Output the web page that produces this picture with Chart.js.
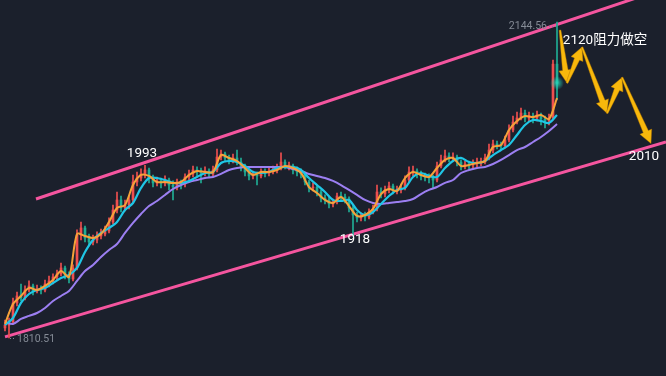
<!DOCTYPE html>
<html><head><meta charset="utf-8">
<script src="https://cdn.jsdelivr.net/npm/chart.js@4.4.1/dist/chart.umd.min.js"></script>
<style>
html,body{margin:0;padding:0;background:#1b202c;}
#wrap{position:relative;width:666px;height:376px;background:#1b202c;overflow:hidden;}
canvas{display:block;}
</style></head><body>
<div id="wrap"><canvas id="c" width="666" height="376"></canvas></div>
<script>
// ---- candle data (price) ----
const openP = [
1821.1,1824.2,1827.4,1847.5,1856.0,1852.8,1861.2,1865.5,1860.2,1862.3,
1861.2,1867.6,1870.8,1875.0,1878.2,1884.5,1876.0,1872.9,1884.5,1919.4,
1926.8,1916.2,1912.0,1914.1,1918.3,1920.4,1923.6,1933.1,1945.8,1956.4,
1947.9,1951.1,1956.4,1975.4,1979.6,1983.9,1988.1,1979.6,1974.4,1976.5,
1974.4,1977.5,1972.2,1970.1,1974.4,1973.3,1980.7,1983.9,1988.1,1987.0,
1984.9,1987.0,1983.9,1988.1,2001.8,2005.0,2000.8,1998.7,2000.8,1996.5,
1991.3,1986.0,1981.8,1983.9,1981.8,1986.0,1984.9,1987.0,1988.1,1990.2,
1996.5,1992.3,1992.3,1988.1,1986.0,1983.9,1975.4,1969.1,1970.1,1964.8,
1958.5,1956.4,1952.2,1954.3,1960.6,1959.6,1957.4,1947.9,1940.5,1937.4,
1939.5,1938.4,1943.7,1946.9,1964.8,1962.7,1967.0,1971.2,1965.9,1967.0,
1969.1,1977.5,1986.0,1987.0,1983.9,1981.8,1980.7,1979.6,1977.5,1992.3,
1998.7,2002.9,2000.8,2001.8,1996.5,1992.3,1994.4,1993.4,1995.5,1995.5,
1996.5,2000.8,2009.2,2015.6,2014.5,2013.5,2019.8,2030.4,2038.8,2043.1,
2048.3,2043.1,2045.2,2043.1,2046.2,2042.0,2039.9,2043.1,2100.0];
const highP = [
1829.5,1831.6,1852.8,1859.1,1867.6,1865.5,1870.8,1867.6,1866.5,1865.5,
1871.8,1876.0,1878.2,1882.4,1889.8,1886.6,1880.3,1887.7,1924.7,1933.1,
1928.9,1920.4,1919.4,1922.6,1925.7,1928.9,1937.4,1951.1,1964.8,1960.6,
1956.4,1960.6,1982.8,1986.0,1989.2,1993.0,1990.2,1982.8,1980.7,1979.6,
1981.8,1979.6,1976.5,1978.6,1977.5,1983.9,1988.1,1992.3,1991.3,1990.2,
1991.3,1989.2,1992.3,2010.3,2009.2,2007.1,2003.9,2005.0,2009.2,2000.8,
1994.4,1988.1,1987.0,1986.0,1989.2,1989.2,1990.2,1992.3,1994.4,2006.1,
1998.7,1996.5,1994.4,1991.3,1989.2,1986.0,1977.5,1974.4,1972.2,1967.0,
1961.7,1959.6,1957.4,1963.8,1964.8,1962.7,1959.6,1951.1,1943.7,1942.6,
1943.7,1946.9,1951.1,1972.2,1969.1,1971.2,1975.4,1973.3,1971.2,1973.3,
1981.8,1991.3,1992.3,1989.2,1987.0,1984.9,1983.9,1982.8,1996.5,2003.9,
2009.2,2006.1,2006.1,2003.9,1998.7,1997.6,1997.6,1998.7,2000.8,2000.8,
2005.0,2015.6,2019.8,2018.7,2017.7,2024.0,2035.7,2045.2,2049.4,2053.6,
2051.5,2049.4,2048.3,2050.5,2048.3,2045.2,2047.3,2104.4,2144.56];
const lowP = [
1817.9,1810.51,1825.3,1844.3,1849.6,1850.7,1859.1,1856.0,1858.1,1857.0,
1859.1,1864.4,1867.6,1871.8,1876.0,1872.9,1868.6,1870.8,1882.4,1914.1,
1912.0,1907.8,1908.8,1910.9,1915.2,1918.3,1921.5,1931.0,1942.6,1943.7,
1944.8,1946.9,1954.3,1971.2,1976.5,1979.6,1974.4,1970.1,1971.2,1969.1,
1971.2,1967.0,1956.4,1967.0,1968.0,1970.1,1977.5,1980.7,1981.8,1974.4,
1981.8,1979.6,1981.8,1986.0,1998.7,1996.5,1994.4,1995.5,1993.4,1987.0,
1981.8,1977.5,1978.6,1972.2,1979.6,1980.7,1981.8,1983.9,1984.9,1988.1,
1989.2,1988.1,1983.9,1981.8,1979.6,1972.2,1964.8,1965.9,1960.6,1954.3,
1952.2,1947.9,1949.0,1952.2,1956.4,1953.2,1943.7,1918.0,1933.1,1934.2,
1934.2,1936.3,1941.6,1944.8,1958.5,1959.6,1963.8,1962.7,1962.7,1963.8,
1967.0,1975.4,1981.8,1979.6,1977.5,1976.5,1974.4,1969.1,1975.4,1990.2,
1996.5,1996.5,1997.6,1992.3,1988.1,1989.2,1989.2,1990.2,1991.3,1992.3,
1994.4,1998.7,2006.1,2010.3,2009.2,2011.3,2017.7,2028.3,2036.7,2040.9,
2038.8,2039.9,2037.8,2039.9,2035.7,2032.5,2035.7,2040.9,2062.1];
const closeP = [
1824.2,1827.4,1847.5,1854.9,1852.8,1861.2,1865.5,1860.2,1862.3,1861.2,
1867.6,1870.8,1875.0,1878.2,1884.5,1876.0,1872.9,1884.5,1919.4,1926.8,
1916.2,1912.0,1914.1,1918.3,1920.4,1923.6,1933.1,1945.8,1956.4,1947.9,
1951.1,1956.4,1975.4,1979.6,1983.9,1988.1,1979.6,1974.4,1976.5,1974.4,
1977.5,1972.2,1970.1,1974.4,1973.3,1980.7,1983.9,1988.1,1987.0,1984.9,
1987.0,1983.9,1988.1,2001.8,2005.0,2000.8,1998.7,2000.8,1996.5,1991.3,
1986.0,1981.8,1983.9,1981.8,1986.0,1984.9,1987.0,1988.1,1990.2,1996.5,
1992.3,1992.3,1988.1,1986.0,1983.9,1975.4,1969.1,1970.1,1964.8,1958.5,
1956.4,1952.2,1954.3,1960.6,1959.6,1957.4,1947.9,1940.5,1937.4,1939.5,
1938.4,1943.7,1946.9,1964.8,1962.7,1967.0,1971.2,1967.0,1967.0,1969.1,
1977.5,1986.0,1987.0,1983.9,1981.8,1980.7,1979.6,1977.5,1992.3,1998.7,
2002.9,2000.8,2001.8,1996.5,1992.3,1994.4,1993.4,1995.5,1996.5,1996.5,
2000.8,2009.2,2015.6,2014.5,2013.5,2019.8,2030.4,2038.8,2043.1,2048.3,
2043.1,2045.2,2043.1,2046.2,2042.0,2039.9,2043.1,2100.0,2080.0];

// ---- moving averages, sampled every 2nd candle ----
const maFast = [
1825.3,1846.4,1854.9,1863.4,1861.2,1865.5,1871.8,1881.3,1875.0,1920.4,
1918.3,1916.2,1920.4,1933.1,1947.9,1951.1,1972.2,1982.8,1981.8,1975.4,
1975.4,1974.4,1975.4,1982.8,1987.0,1986.0,1986.0,2003.9,2000.8,1997.6,
1990.2,1982.8,1986.0,1986.0,1988.1,1992.3,1990.2,1984.9,1970.1,1963.8,
1956.4,1953.2,1959.6,1950.0,1939.5,1940.5,1946.9,1962.7,1968.0,1965.9,
1979.6,1986.0,1982.8,1980.7,1990.2,1998.7,2000.8,1992.3,1993.4,1995.5,
1997.6,2012.4,2014.5,2030.4,2039.9,2045.2,2044.1,2046.2,2042.0,2064.2];
const maMid = [
1824.2,1831.6,1847.5,1857.0,1861.2,1863.4,1868.6,1873.9,1877.1,1884.5,
1901.4,1914.1,1921.5,1926.8,1933.1,1945.8,1953.2,1969.1,1979.6,1979.6,
1977.5,1974.4,1974.4,1976.5,1980.7,1984.9,1986.0,1995.5,1997.6,1996.5,
1992.3,1986.0,1984.9,1986.0,1990.2,1991.3,1991.3,1988.1,1979.6,1972.2,
1964.8,1956.4,1955.3,1956.4,1945.8,1940.5,1943.7,1952.2,1960.6,1967.0,
1969.1,1980.7,1984.9,1981.8,1980.7,1990.2,1997.6,2000.8,1996.5,1995.5,
1997.6,2003.9,2009.2,2014.5,2025.1,2035.7,2040.9,2039.9,2037.8,2046.2];
const maSlow = [
1827.4,1825.3,1830.6,1833.8,1836.9,1842.2,1849.6,1854.9,1860.2,1870.8,
1881.3,1887.7,1896.1,1903.5,1909.9,1921.5,1932.1,1941.6,1950.0,1955.3,
1961.7,1968.0,1972.2,1975.4,1977.5,1979.6,1980.7,1983.9,1988.1,1990.2,
1991.3,1991.3,1991.3,1991.3,1991.3,1991.3,1989.1,1987.0,1983.9,1981.8,
1979.6,1976.5,1972.2,1967.0,1961.7,1956.4,1953.2,1952.2,1953.2,1954.3,
1955.3,1957.4,1962.7,1967.0,1970.1,1974.4,1977.5,1984.9,1988.1,1990.2,
1991.3,1994.4,1998.7,2003.9,2009.2,2012.4,2017.7,2023.0,2029.3,2036.7];

// ---- channel lines, projected path, notes ----
const upperChanX = [7.75, 165.25], upperChanY = [1957.4, 2180.5];
const lowerChanX = [0, 165.25],    lowerChanY = [1811.6, 2017.7];
const arrowX = [138.75, 140.5, 144.25, 150.5, 154.25, 161.5];
const arrowY = [2136, 2080, 2118, 2048, 2086, 2016];
const noteText = ['1993', '1918', '2010', '2120阻力做空'];
const noteX = [34.25, 87.5, 159.75, 150.0];
const noteY = [2005.0, 1914.1, 2001.8, 2124.5];

const UP = '#ef4f4f', DOWN = '#20ad95';
const candleIdx = openP.map((_, i) => i);
const maIdx = maFast.map((_, k) => k * 2);
const candleCol = candleIdx.map(i => closeP[i] >= openP[i] ? UP : DOWN);
const pts = (xs, ys) => xs.map((x, k) => ({x, y: ys[k]}));

function drawArrow(ctx, x0, y0, x1, y1) {
  const dx = x1 - x0, dy = y1 - y0, L = Math.hypot(dx, dy);
  const ux = dx / L, uy = dy / L, nx = -uy, ny = ux;
  const headL = 13, headW = 6.5, w0 = 0.9, w1 = 2.8;
  const bx = x1 - ux * headL, by = y1 - uy * headL;
  ctx.beginPath();
  ctx.moveTo(x0 + nx * w0, y0 + ny * w0);
  ctx.lineTo(bx + nx * w1, by + ny * w1);
  ctx.lineTo(bx + nx * headW, by + ny * headW);
  ctx.lineTo(x1, y1);
  ctx.lineTo(bx - nx * headW, by - ny * headW);
  ctx.lineTo(bx - nx * w1, by - ny * w1);
  ctx.lineTo(x0 - nx * w0, y0 - ny * w0);
  ctx.closePath();
  ctx.fillStyle = '#f8b80c';
  ctx.fill();
  ctx.strokeStyle = 'rgba(170,110,0,0.7)';
  ctx.lineWidth = 0.6;
  ctx.stroke();
}

const overlay = {
  id: 'overlay',
  afterDatasetsDraw(chart) {
    const ctx = chart.ctx, xs = chart.scales.x, ys = chart.scales.y;
    ctx.save();
    // glow on latest price
    const li = closeP.length - 1;
    const gx = xs.getPixelForValue(li), gy = ys.getPixelForValue(closeP[li]);
    const g = ctx.createRadialGradient(gx, gy, 0, gx, gy, 7);
    g.addColorStop(0, 'rgba(40,215,185,0.9)');
    g.addColorStop(1, 'rgba(40,215,185,0)');
    ctx.fillStyle = g;
    ctx.beginPath(); ctx.arc(gx, gy, 7, 0, Math.PI * 2); ctx.fill();
    // projected path arrows
    for (let k = 0; k < arrowX.length - 1; k++) {
      drawArrow(ctx, xs.getPixelForValue(arrowX[k]), ys.getPixelForValue(arrowY[k]),
                     xs.getPixelForValue(arrowX[k + 1]), ys.getPixelForValue(arrowY[k + 1]));
    }
    // notes
    ctx.fillStyle = '#ffffff';
    ctx.font = '13.5px Roboto, "Noto Sans CJK SC", sans-serif';
    ctx.textAlign = 'center';
    ctx.textBaseline = 'middle';
    noteText.forEach((t, k) => ctx.fillText(t, xs.getPixelForValue(noteX[k]), ys.getPixelForValue(noteY[k])));
    // extreme value tags
    const hi = Math.max(...highP), hiI = highP.indexOf(hi);
    const lo = Math.min(...lowP), loI = lowP.indexOf(lo);
    ctx.font = '10.5px Roboto, sans-serif';
    ctx.fillStyle = '#858b96';
    ctx.strokeStyle = '#858b96';
    ctx.lineWidth = 1;
    ctx.setLineDash([1, 2]);
    let px = xs.getPixelForValue(hiI), py = ys.getPixelForValue(hi) + 4;
    ctx.beginPath(); ctx.moveTo(px - 1, py + 0.5); ctx.lineTo(px - 9, py + 0.5); ctx.stroke();
    ctx.textAlign = 'right';
    ctx.fillText(hi.toFixed(2), px - 10, py);
    px = xs.getPixelForValue(loI); py = ys.getPixelForValue(lo);
    ctx.beginPath(); ctx.moveTo(px + 1, py + 0.5); ctx.lineTo(px + 7, py + 0.5); ctx.stroke();
    ctx.textAlign = 'left';
    ctx.fillText(lo.toFixed(2), px + 8, py + 1);
    ctx.restore();
  }
};

new Chart(document.getElementById('c'), {
  type: 'bar',
  data: {
    datasets: [
      {type: 'line', data: pts(upperChanX, upperChanY), borderColor: '#f5559f', borderWidth: 3, pointRadius: 0, order: 6},
      {type: 'line', data: pts(lowerChanX, lowerChanY), borderColor: '#f5559f', borderWidth: 3, pointRadius: 0, order: 6},
      {type: 'bar', data: candleIdx.map(i => ({x: i, y: [lowP[i], highP[i]]})), backgroundColor: candleCol,
       barThickness: 1, grouped: false, order: 5},
      {type: 'bar', data: candleIdx.map(i => ({x: i, y: [openP[i], closeP[i]]})), backgroundColor: candleCol,
       barThickness: 2, minBarLength: 1, grouped: false, order: 4},
      {type: 'line', data: pts(maIdx, maSlow), borderColor: '#9c7ff2', borderWidth: 2, pointRadius: 0, tension: 0.3, order: 3},
      {type: 'line', data: pts(maIdx, maMid), borderColor: '#1fc6e6', borderWidth: 2.2, pointRadius: 0, tension: 0.3, order: 2},
      {type: 'line', data: pts(maIdx, maFast), borderColor: '#f6a23a', borderWidth: 2, pointRadius: 0, tension: 0.3, order: 1}
    ]
  },
  options: {
    responsive: false,
    animation: false,
    devicePixelRatio: 1,
    layout: {padding: 0},
    plugins: {legend: {display: false}, tooltip: {enabled: false}},
    scales: {
      x: {type: 'linear', min: -1.25, max: 165.25, offset: false, display: false},
      y: {min: 1770.3, max: 2167.8, display: false}
    }
  },
  plugins: [overlay]
});
</script>
</body></html>
